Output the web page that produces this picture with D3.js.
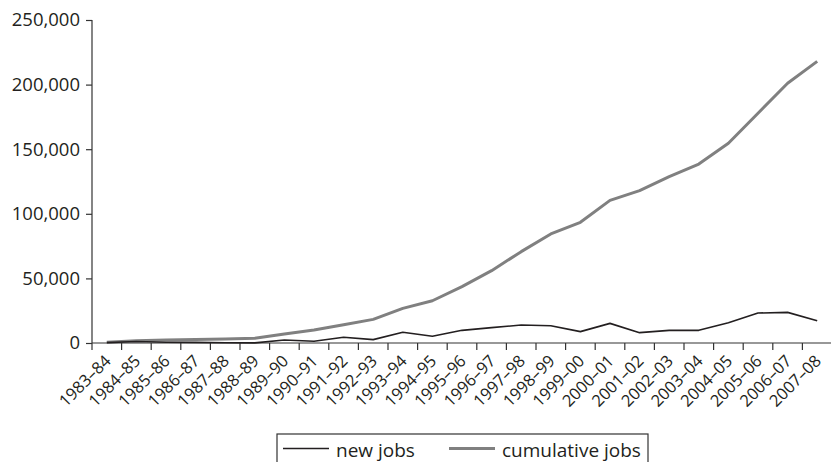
<!DOCTYPE html>
<html>
<head>
<meta charset="utf-8">
<script src="https://cdn.jsdelivr.net/npm/d3@7"></script>
<style>
  body { margin: 0; background: #fff; }
  svg { display: block; }
  text { font-family: "Open Sans", sans-serif; fill: #231f20; }
</style>
</head>
<body>
<svg id="chart" width="831" height="462"></svg>
<script>
const categories = ["1983–84","1984–85","1985–86","1986–87","1987–88","1988–89","1989–90","1990–91","1991–92","1992–93","1993–94","1994–95","1995–96","1996–97","1997–98","1998–99","1999–00","2000–01","2001–02","2002–03","2003–04","2004–05","2005–06","2006–07","2007–08"];
const newJobs = [300, 1200, 600, 500, 200, 100, 2300, 1300, 4400, 2600, 8300, 5200, 9800, 11900, 13900, 13400, 8800, 15200, 8000, 9800, 9800, 15700, 23200, 23700, 17300];
const cumulativeJobs = [500, 1700, 2300, 2800, 3000, 3600, 7000, 10000, 14200, 18300, 26800, 32700, 43600, 56000, 70700, 84400, 93400, 110400, 117900, 128700, 138500, 154600, 177800, 201000, 218000];
const yTicks = [0, 50000, 100000, 150000, 200000, 250000];
const seriesNames = ["new jobs", "cumulative jobs"];

const svg = d3.select("#chart");
const mLeft = 92, mRight = 832, mTop = 20, mBottom = 343;

const x = d3.scaleBand().domain(categories).range([mLeft, mRight]).padding(0);
const y = d3.scaleLinear().domain([0, 250000]).range([mBottom, mTop]);
const fmt = d3.format(",");

// Y axis
const yAxis = svg.append("g").attr("transform", `translate(${mLeft},0)`)
  .call(d3.axisLeft(y).tickValues(yTicks).tickFormat(fmt).tickSize(6).tickPadding(6));
yAxis.selectAll("path, line").attr("stroke", "#333").attr("stroke-width", 1.2);
yAxis.select(".domain").attr("d", `M0,${mTop}V${mBottom}`);
yAxis.selectAll("text").style("font-size", "18.5px").style("font-family", "'Open Sans', sans-serif").attr("fill", "#231f20");

// X axis: ticks at band boundaries
const xg = svg.append("g");
xg.append("line").attr("x1", mLeft).attr("x2", mRight).attr("y1", mBottom).attr("y2", mBottom)
  .attr("stroke", "#333").attr("stroke-width", 1.2);
xg.selectAll("line.tk").data(categories).enter().append("line")
  .attr("class", "tk")
  .attr("x1", d => x(d)).attr("x2", d => x(d))
  .attr("y1", mBottom).attr("y2", mBottom + 7)
  .attr("stroke", "#333").attr("stroke-width", 1.2);
xg.selectAll("text").data(categories).enter().append("text")
  .attr("transform", d => `translate(${x(d) + x.bandwidth() / 2 + 5},${mBottom + 19}) rotate(-45)`)
  .attr("text-anchor", "end")
  .style("font-size", "16.5px")
  .text(d => d);

const line = d3.line()
  .x((d, i) => x(categories[i]) + x.bandwidth() / 2)
  .y(d => y(d));

svg.append("path").datum(cumulativeJobs)
  .attr("d", line).attr("fill", "none")
  .attr("stroke", "#808080").attr("stroke-width", 3).attr("stroke-linejoin", "round");
svg.append("path").datum(newJobs)
  .attr("d", line).attr("fill", "none")
  .attr("stroke", "#231f20").attr("stroke-width", 1.6).attr("stroke-linejoin", "round");

// Legend
const lg = svg.append("g");
lg.append("rect").attr("x", 277).attr("y", 434).attr("width", 371).attr("height", 40)
  .attr("fill", "#fff").attr("stroke", "#333").attr("stroke-width", 1.2);
const legendItems = [
  {name: seriesNames[0], color: "#231f20", w: 1.6, x0: 283},
  {name: seriesNames[1], color: "#808080", w: 3, x0: 449}
];
legendItems.forEach(it => {
  lg.append("line").attr("x1", it.x0).attr("x2", it.x0 + 46).attr("y1", 448.5).attr("y2", 448.5)
    .attr("stroke", it.color).attr("stroke-width", it.w);
  lg.append("text").attr("x", it.x0 + 53).attr("y", 456.5).style("font-size", "19px").text(it.name);
});
</script>
</body>
</html>
